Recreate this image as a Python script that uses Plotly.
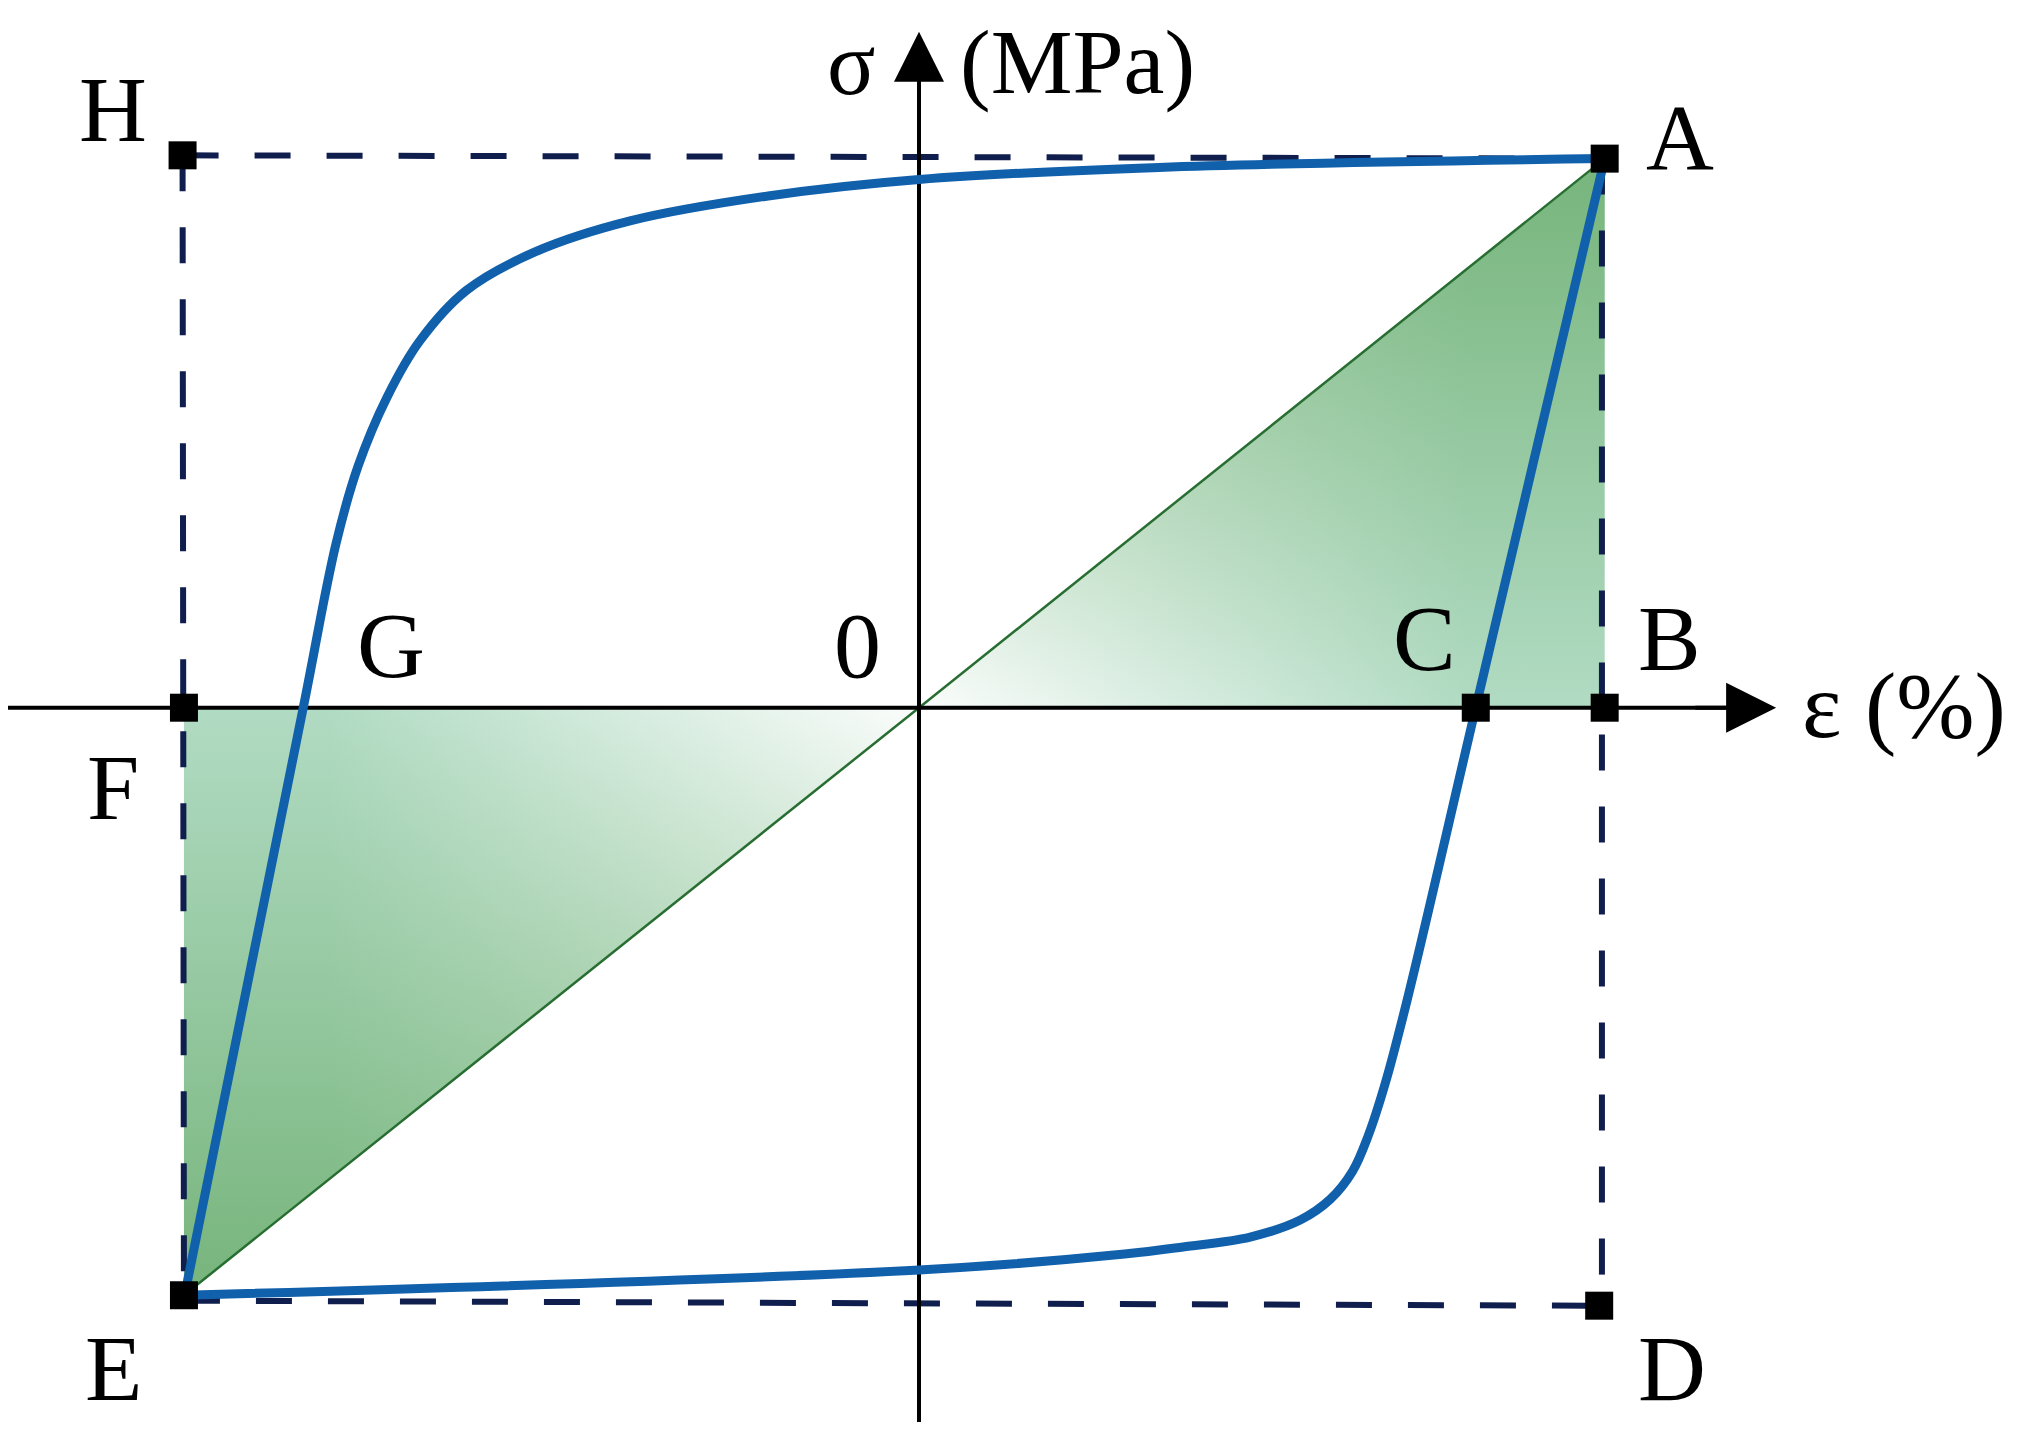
import plotly.graph_objects as go

# ---------------- data (normalised strain / stress units) ----------------
# upper (loading) branch: E -> G -> A
eps_upper = [-1.071, -0.898, -0.850, -0.818, -0.776, -0.728, -0.660, -0.560,
             -0.420, -0.220, 0.0, 0.350, 1.0]
sig_upper = [-1.070, 0.0, 0.300, 0.440, 0.565, 0.668, 0.760, 0.830,
             0.887, 0.932, 0.962, 0.984, 1.0]
# lower (unloading) branch: A -> C -> E
eps_lower = [1.0, 0.812, 0.712, 0.680, 0.655, 0.632, 0.600, 0.556, 0.483,
             0.385, 0.300, 0.0, -1.071]
sig_lower = [1.0, 0.0, -0.532, -0.684, -0.780, -0.845, -0.895, -0.933, -0.964,
             -0.982, -0.995, -1.024, -1.070]

# key points
pt_names = ["A", "B", "C", "D", "E", "F", "H"]
pt_eps = [1.0, 1.0, 0.812, 0.992, -1.072, -1.072, -1.074]
pt_sig = [1.0, 0.0, 0.0, -1.089, -1.070, 0.0, 1.006]

# shaded triangles O-A-B and O-F-E
tri_right_eps = [0.0, 1.0, 1.0, 0.0]
tri_right_sig = [0.0, 1.0, 0.0, 0.0]
tri_left_eps = [0.0, -1.072, -1.072, 0.0]
tri_left_sig = [0.0, 0.0, -1.070, 0.0]

# dashed envelope H-A-D-E
dash_top_eps, dash_top_sig = [-1.074, 1.0], [1.006, 1.0]
dash_right_eps, dash_right_sig = [0.996, 0.996], [1.0, -1.089]
dash_bottom_eps, dash_bottom_sig = [-1.072, 0.992], [-1.080, -1.089]
dash_left_eps, dash_left_sig = [-1.074, -1.072], [1.006, -1.070]

# text labels
lbl_text = ["H", "A", "B", "C", "G", "0", "F", "E", "D"]
lbl_eps = [-1.175, 1.110, 1.094, 0.737, -0.770, -0.090, -1.175, -1.175, 1.098]
lbl_sig = [1.090, 1.040, 0.127, 0.127, 0.115, 0.115, -0.145, -1.202, -1.202]

# axis extents
x_axis_eps = [-1.331, 1.250]
y_axis_sig = [-1.301, 1.231]

# page body has an 8 px margin: figure is 2005x1417, ranges compensate
FIG_W, FIG_H = 2005, 1417
X_RANGE = [-1.3286, 1.5955]
Y_RANGE = [-1.3063, 1.2743]

FONT = "Liberation Serif, Times New Roman, serif"
BLUE = "rgb(16,96,172)"
NAVY = "rgb(16,30,78)"
EDGE_GREEN = "rgb(40,110,50)"

fig = go.Figure()

# ---------------- gradient fills ----------------
def grad_fill(xs, ys, gtype, c0, c1, start, stop):
    fig.add_trace(go.Scatter(
        x=xs, y=ys, mode="lines", fill="toself",
        line=dict(width=0, color="rgba(0,0,0,0)"),
        fillgradient=dict(type=gtype, colorscale=[[0, c0], [1, c1]],
                          start=start, stop=stop),
        hoverinfo="skip"))

# right triangle: darker toward A
grad_fill(tri_right_eps, tri_right_sig, "horizontal",
          "rgba(125,195,155,0.03)", "rgba(125,195,155,0.60)", 0.0, 0.8)
grad_fill(tri_right_eps, tri_right_sig, "vertical",
          "rgba(100,168,100,0.0)", "rgba(100,168,100,0.72)", 0.0, 0.95)
# left triangle: darker toward E
grad_fill(tri_left_eps, tri_left_sig, "horizontal",
          "rgba(125,195,155,0.60)", "rgba(125,195,155,0.03)", -0.86, 0.0)
grad_fill(tri_left_eps, tri_left_sig, "vertical",
          "rgba(100,168,100,0.72)", "rgba(100,168,100,0.0)", -1.02, 0.0)

# hypotenuse edges
fig.add_trace(go.Scatter(x=[tri_left_eps[2], 0.0, tri_right_eps[1]],
                         y=[tri_left_sig[2], 0.0, tri_right_sig[1]],
                         mode="lines", line=dict(color=EDGE_GREEN, width=2.5),
                         hoverinfo="skip"))

# ---------------- dashed envelope ----------------
for xs, ys in [(dash_top_eps, dash_top_sig), (dash_right_eps, dash_right_sig),
               (dash_bottom_eps, dash_bottom_sig), (dash_left_eps, dash_left_sig)]:
    fig.add_trace(go.Scatter(x=xs, y=ys, mode="lines",
                             line=dict(color=NAVY, width=6, dash="36px,36px"),
                             hoverinfo="skip"))

# ---------------- axes (lines) ----------------
fig.add_trace(go.Scatter(x=[x_axis_eps[0], x_axis_eps[1] - 0.03], y=[0, 0], mode="lines",
                         line=dict(color="black", width=4), hoverinfo="skip"))
fig.add_trace(go.Scatter(x=[0, 0], y=[y_axis_sig[0], y_axis_sig[1] - 0.04], mode="lines",
                         line=dict(color="black", width=4), hoverinfo="skip"))

# ---------------- hysteresis loop ----------------
fig.add_trace(go.Scatter(x=eps_upper, y=sig_upper, mode="lines",
                         line=dict(color=BLUE, width=9, shape="spline", smoothing=1.0),
                         hoverinfo="skip"))
fig.add_trace(go.Scatter(x=eps_lower, y=sig_lower, mode="lines",
                         line=dict(color=BLUE, width=9, shape="spline", smoothing=1.0),
                         hoverinfo="skip"))

# ---------------- markers ----------------
fig.add_trace(go.Scatter(x=pt_eps, y=pt_sig, mode="markers", text=pt_names,
                         marker=dict(symbol="square", size=28, color="black",
                                     line=dict(width=0)),
                         hoverinfo="text"))

# ---------------- arrow heads ----------------
fig.add_annotation(x=x_axis_eps[1], y=0, ax=x_axis_eps[1] - 0.12, ay=0,
                   xref="x", yref="y", axref="x", ayref="y", text="",
                   showarrow=True, arrowhead=2, arrowsize=2.5, arrowwidth=4,
                   arrowcolor="black", standoff=0)
fig.add_annotation(x=0, y=y_axis_sig[1], ax=0, ay=y_axis_sig[1] - 0.15,
                   xref="x", yref="y", axref="x", ayref="y", text="",
                   showarrow=True, arrowhead=2, arrowsize=2.5, arrowwidth=4,
                   arrowcolor="black", standoff=0)

# ---------------- labels ----------------
for t, x, y in zip(lbl_text, lbl_eps, lbl_sig):
    fig.add_annotation(x=x, y=y, text=t, showarrow=False, xref="x", yref="y",
                       font=dict(family=FONT, size=94, color="black"),
                       xanchor="center", yanchor="middle")

fig.add_annotation(x=1.285, y=0.005, text="ε (%)", showarrow=False,
                   xanchor="left", yanchor="middle",
                   font=dict(family=FONT, size=94, color="black"))
# axis title at the top: anchored to the top edge so the text box stays inside
fig.add_annotation(x=-0.099, y=1.0, yref="paper", text="σ", showarrow=False,
                   xanchor="center", yanchor="top", yshift=-4,
                   font=dict(family=FONT, size=90, color="black"))
fig.add_annotation(x=0.057, y=1.0, yref="paper", text="(MPa)", showarrow=False,
                   xanchor="left", yanchor="top", yshift=-1,
                   font=dict(family=FONT, size=92, color="black"))

fig.update_layout(
    width=FIG_W, height=FIG_H,
    margin=dict(l=0, r=0, t=0, b=0),
    paper_bgcolor="white", plot_bgcolor="white",
    showlegend=False,
    xaxis=dict(range=X_RANGE, visible=False, fixedrange=True),
    yaxis=dict(range=Y_RANGE, visible=False, fixedrange=True),
)

fig.write_html("out.html")
